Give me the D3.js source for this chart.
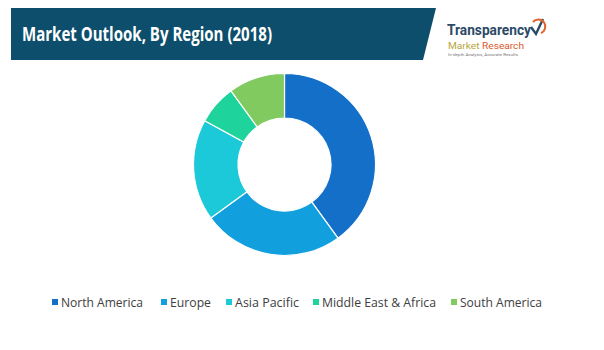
<!DOCTYPE html>
<html>
<head>
<meta charset="utf-8">
<script src="https://cdn.jsdelivr.net/npm/d3@7"></script>
<style>
  html, body { margin: 0; padding: 0; background: #ffffff; }
  svg { display: block; }
</style>
</head>
<body>
<svg id="chart" width="604" height="350"></svg>
<script>
// Regional share of the market, 2018 (percent)
const regions = ["North America", "Europe", "Asia Pacific", "Middle East & Africa", "South America"];
const shares = [40, 25, 18, 7, 10];
const colors = ["#146fc9", "#119fde", "#1bc9d8", "#1fd49c", "#80ca60"];

const title = "Market Outlook, By Region (2018)";

const svg = d3.select("#chart");

// Header banner with slanted right edge
svg.append("path")
  .attr("d", "M11,8 L436,8 L423,60 L11,60 Z")
  .attr("fill", "#0c4e6b");

svg.append("text")
  .attr("x", 22)
  .attr("y", 41)
  .attr("fill", "#ffffff")
  .attr("font-family", "'Open Sans', 'Noto Sans', sans-serif")
  .attr("font-weight", "bold")
  .attr("font-size", 19.5)
  .attr("textLength", 250)
  .attr("lengthAdjust", "spacingAndGlyphs")
  .text(title);

// Company logo block
const logo = svg.append("g").attr("font-family", "Roboto, 'Noto Sans', sans-serif");
logo.append("text")
  .attr("x", 447).attr("y", 35)
  .attr("fill", "#2c4a66")
  .attr("font-size", 14)
  .attr("font-weight", "bold")
  .attr("textLength", 84)
  .attr("lengthAdjust", "spacingAndGlyphs")
  .text("Transparency");
const mr = logo.append("text")
  .attr("x", 448).attr("y", 48.5)
  .attr("font-size", 9.5)
  .attr("textLength", 76)
  .attr("lengthAdjust", "spacingAndGlyphs");
mr.append("tspan").attr("fill", "#b8a53c").text("Market ");
mr.append("tspan").attr("fill", "#d9582b").text("Research");
logo.append("text")
  .attr("x", 448).attr("y", 56)
  .attr("fill", "#777777")
  .attr("font-size", 4)
  .attr("textLength", 70)
  .attr("lengthAdjust", "spacingAndGlyphs")
  .text("In-depth Analysis, Accurate Results");
// check-mark emblem
logo.append("path")
  .attr("d", "M531,27 L536,34 L543,19")
  .attr("fill", "none")
  .attr("stroke", "#2c4a66")
  .attr("stroke-width", 2.4);
logo.append("path")
  .attr("d", "M533,22 A7,7 0 1 1 541,33")
  .attr("fill", "none")
  .attr("stroke", "#e0622d")
  .attr("stroke-width", 2);

// Donut
const cx = 284.5, cy = 164.5, rOuter = 91, rInner = 46.5;
const data = regions.map((r, i) => ({ region: r, value: shares[i], color: colors[i] }));

const pie = d3.pie().value(d => d.value).sort(null);
const arc = d3.arc().innerRadius(rInner).outerRadius(rOuter);

svg.append("g")
  .attr("transform", `translate(${cx},${cy})`)
  .selectAll("path")
  .data(pie(data))
  .join("path")
  .attr("d", arc)
  .attr("fill", d => d.data.color)
  .attr("stroke", "#ffffff")
  .attr("stroke-width", 1.2);

// Legend
const legendX = [52, 161, 226, 313, 451];
const textW = [82, 41, 64, 114, 82];
const legend = svg.append("g")
  .attr("font-family", "'Open Sans', 'Noto Sans', sans-serif")
  .attr("font-size", 12.5);
data.forEach((d, i) => {
  const g = legend.append("g").attr("transform", `translate(${legendX[i]},302)`);
  g.append("rect").attr("x", 0).attr("y", -3).attr("width", 6).attr("height", 6).attr("fill", d.color);
  g.append("text")
    .attr("x", 9)
    .attr("y", 4.5)
    .attr("fill", "#404040")
    .attr("textLength", textW[i])
    .attr("lengthAdjust", "spacingAndGlyphs")
    .text(d.region);
});
</script>
</body>
</html>
